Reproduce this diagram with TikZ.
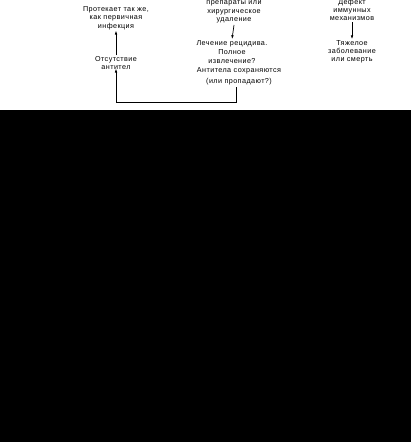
\documentclass[tikz,border=0pt]{standalone}
\usepackage{fontspec}
\setmainfont{Liberation Sans}[LetterSpace=6]
\usetikzlibrary{arrows.meta}
\begin{document}
\begin{tikzpicture}[x=1pt,y=-1pt,
  txt/.style={inner sep=0.5pt,align=center,font=\fontsize{7.2}{8.6}\selectfont},
  arr/.style={line width=0.7pt,-{Latex[length=4pt,width=2.6pt]}},
  ln/.style={line width=0.7pt}]
\useasboundingbox (0,0) rectangle (411,442);
\fill[black] (0,110) rectangle (411,442);
% left column
\node[txt] (L1) at (116,18) {Протекает так же,\\как первичная\\инфекция};
\node[txt] (L2) at (116,63) {Отсутствие\\антител};
% middle column
\node[txt] (M1) at (234,12) {препараты или\\хирургическое\\удаление};
\node[txt] (M2) at (232,52) {Лечение рецидива.\\Полное\\извлечение?};
\node[txt,font=\fontsize{7.2}{11}\selectfont] (M3) at (239,76) {Антитела сохраняются\\(или пропадают?)};
% right column
\node[txt,font=\fontsize{7.2}{7.8}\selectfont] (R1) at (352,10) {Дефект\\иммунных\\механизмов};
\node[txt,font=\fontsize{7.2}{7.8}\selectfont] (R2) at (352,52) {Тяжелое\\заболевание\\или смерть};
% connectors
\draw[arr] (L2.north) -- (L1.south);
\draw[arr] ([yshift=-1pt]M1.south) -- ([yshift=1pt]M2.north);
\draw[arr] ([yshift=-1pt]R1.south) -- ([yshift=1pt]R2.north);
\coordinate (cr) at (236,102);
\draw[arr] (M3.south -| cr) ++(0,2) |- (L2.south |- cr) -- ([yshift=2pt]L2.south);
\end{tikzpicture}
\end{document}
